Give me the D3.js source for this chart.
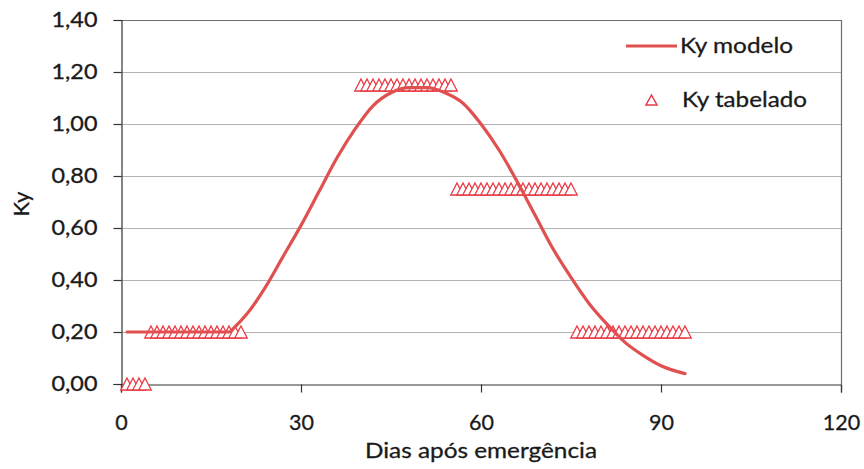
<!DOCTYPE html>
<html>
<head>
<meta charset="utf-8">
<script src="https://cdn.jsdelivr.net/npm/d3@7"></script>
<style>
  html, body { margin: 0; padding: 0; background: #fff; }
  svg { display: block; font-family: Lato, "Open Sans", sans-serif; }
  .lbl { fill: #1a1a1a; stroke: #1a1a1a; stroke-width: 0.3px; }
</style>
</head>
<body>
<svg id="chart" width="864" height="469"></svg>
<script>
// Ky modelo: smooth yield-response factor curve (day after emergence, Ky)
const modelDays = [1, 18, 19, 21, 24, 27, 30, 33, 36, 39, 42, 45, 48, 51, 54, 57, 60, 63, 66, 69, 72, 75, 78, 81, 84, 87, 90, 94];
const modelKy   = [0.20, 0.20, 0.22, 0.27, 0.37, 0.49, 0.61, 0.74, 0.87, 0.98, 1.07, 1.12, 1.14, 1.14, 1.12, 1.08, 1.00, 0.90, 0.78, 0.65, 0.52, 0.41, 0.31, 0.23, 0.16, 0.11, 0.07, 0.04];

// Ky tabelado: tabulated Ky for each day of every growth stage
const tabDays = [
  1, 2, 3, 4,
  5, 6, 7, 8, 9, 10, 11, 12, 13, 14, 15, 16, 17, 18, 19, 20,
  40, 41, 42, 43, 44, 45, 46, 47, 48, 49, 50, 51, 52, 53, 54, 55,
  56, 57, 58, 59, 60, 61, 62, 63, 64, 65, 66, 67, 68, 69, 70, 71, 72, 73, 74, 75,
  76, 77, 78, 79, 80, 81, 82, 83, 84, 85, 86, 87, 88, 89, 90, 91, 92, 93, 94
];
const tabKy = [
  0, 0, 0, 0,
  0.2, 0.2, 0.2, 0.2, 0.2, 0.2, 0.2, 0.2, 0.2, 0.2, 0.2, 0.2, 0.2, 0.2, 0.2, 0.2,
  1.15, 1.15, 1.15, 1.15, 1.15, 1.15, 1.15, 1.15, 1.15, 1.15, 1.15, 1.15, 1.15, 1.15, 1.15, 1.15,
  0.75, 0.75, 0.75, 0.75, 0.75, 0.75, 0.75, 0.75, 0.75, 0.75, 0.75, 0.75, 0.75, 0.75, 0.75, 0.75, 0.75, 0.75, 0.75, 0.75,
  0.2, 0.2, 0.2, 0.2, 0.2, 0.2, 0.2, 0.2, 0.2, 0.2, 0.2, 0.2, 0.2, 0.2, 0.2, 0.2, 0.2, 0.2, 0.2
];

const xTicks = [0, 30, 60, 90, 120];
const yTicks = [0, 0.2, 0.4, 0.6, 0.8, 1.0, 1.2, 1.4];
const xTitle = "Dias após emergência";
const yTitle = "Ky";
const seriesNames = ["Ky modelo", "Ky tabelado"];

const lineColor = "#e05050";
const markColor = "#ec3a44";

const svg = d3.select("#chart");
const plotLeft = 121, plotRight = 841, plotTop = 20, plotBottom = 384;

const x = d3.scaleLinear().domain([0, 120]).range([plotLeft, plotRight]);
const y = d3.scaleLinear().domain([0, 1.4]).range([plotBottom, plotTop]);
const fmt = v => d3.format(".2f")(v).replace(".", ",");

// horizontal gridlines
svg.append("g")
  .selectAll("line")
  .data(yTicks.filter(v => v > 0 && v < 1.4))
  .join("line")
  .attr("x1", plotLeft).attr("x2", plotRight)
  .attr("y1", d => Math.round(y(d)) + 0.5).attr("y2", d => Math.round(y(d)) + 0.5)
  .attr("stroke", "#b4b4b4").attr("stroke-width", 1.2);

// plot frame: top and right edges
svg.append("path")
  .attr("d", `M${plotLeft},${plotTop + 0.5}H${plotRight + 0.5}V${plotBottom}`)
  .attr("fill", "none").attr("stroke", "#6e6e6e").attr("stroke-width", 1.2);

// y axis
const yAxis = svg.append("g")
  .attr("transform", `translate(${plotLeft + 0.5},0)`)
  .call(d3.axisLeft(y).tickValues(yTicks).tickFormat(fmt).tickSize(8).tickPadding(24));
yAxis.select(".domain").attr("stroke", "#333").attr("stroke-width", 1.2);
yAxis.selectAll(".tick line").attr("stroke", "#333").attr("stroke-width", 1.2);
yAxis.selectAll(".tick text")
  .attr("class", "lbl")
  .attr("font-family", "Lato, sans-serif").attr("font-size", 21)
  .attr("text-anchor", "start").attr("x", -70)
  .attr("textLength", 46).attr("lengthAdjust", "spacingAndGlyphs");

// x axis
const xAxis = svg.append("g")
  .attr("transform", `translate(0,${plotBottom + 0.5})`)
  .call(d3.axisBottom(x).tickValues(xTicks).tickFormat(d3.format("d")).tickSize(8).tickPadding(22));
xAxis.select(".domain").attr("stroke", "#333").attr("stroke-width", 1.2);
xAxis.selectAll(".tick line").attr("stroke", "#333").attr("stroke-width", 1.2);
xAxis.selectAll(".tick text")
  .attr("class", "lbl")
  .attr("font-family", "Lato, sans-serif").attr("font-size", 21.5);

// axis titles
svg.append("text")
  .attr("class", "lbl")
  .attr("x", 365).attr("y", 458)
  .attr("font-size", 22)
  .attr("textLength", 232).attr("lengthAdjust", "spacingAndGlyphs")
  .text(xTitle);

svg.append("text")
  .attr("class", "lbl")
  .attr("transform", "translate(29,204) rotate(-90)")
  .attr("text-anchor", "middle")
  .attr("font-size", 22)
  .text(yTitle);

// triangle outline marker
const tri = (w, h) => `M0,${-h / 2}L${w / 2},${h / 2}L${-w / 2},${h / 2}Z`;

// tabulated markers
svg.append("g")
  .selectAll("path")
  .data(tabDays.map((d, i) => [d, tabKy[i]]))
  .join("path")
  .attr("transform", d => `translate(${x(d[0])},${y(d[1])})`)
  .attr("d", tri(12.5, 12))
  .attr("fill", "#fff")
  .attr("stroke", markColor)
  .attr("stroke-width", 1.3);

// model curve
const line = d3.line()
  .x(d => x(d[0]))
  .y(d => y(d[1]))
  .curve(d3.curveMonotoneX);

svg.append("path")
  .datum(modelDays.map((d, i) => [d, modelKy[i]]))
  .attr("d", line)
  .attr("fill", "none")
  .attr("stroke", lineColor)
  .attr("stroke-width", 3.2)
  .attr("stroke-linecap", "round")
  .attr("stroke-linejoin", "round");

// legend
const lg = svg.append("g");
lg.append("line")
  .attr("x1", 626).attr("x2", 677).attr("y1", 46).attr("y2", 46)
  .attr("stroke", lineColor).attr("stroke-width", 3.2);
lg.append("text")
  .attr("class", "lbl")
  .attr("x", 680).attr("y", 53)
  .attr("font-size", 22)
  .attr("textLength", 113).attr("lengthAdjust", "spacingAndGlyphs")
  .text(seriesNames[0]);
lg.append("path")
  .attr("transform", "translate(651.5,100)")
  .attr("d", tri(11, 10))
  .attr("fill", "#fff").attr("stroke", markColor).attr("stroke-width", 1.5);
lg.append("text")
  .attr("class", "lbl")
  .attr("x", 682).attr("y", 107)
  .attr("font-size", 22)
  .attr("textLength", 125).attr("lengthAdjust", "spacingAndGlyphs")
  .text(seriesNames[1]);
</script>
</body>
</html>
